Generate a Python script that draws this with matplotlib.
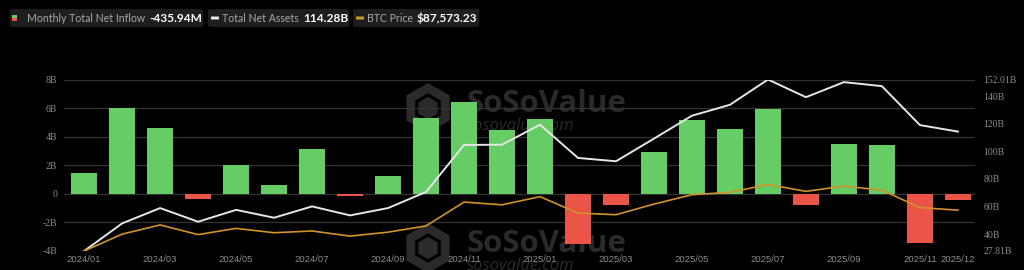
import numpy as np
import matplotlib
matplotlib.use("Agg")
import matplotlib.pyplot as plt
from matplotlib.patches import FancyBboxPatch, Rectangle, RegularPolygon

# Monthly spot BTC ETF flows, 2024/01 .. 2025/12
months = ["2024/01", "2024/02", "2024/03", "2024/04", "2024/05", "2024/06",
          "2024/07", "2024/08", "2024/09", "2024/10", "2024/11", "2024/12",
          "2025/01", "2025/02", "2025/03", "2025/04", "2025/05", "2025/06",
          "2025/07", "2025/08", "2025/09", "2025/10", "2025/11", "2025/12"]

# net inflow, billions USD
net_inflow = [1.45, 6.0, 4.59, -0.33, 2.05, 0.65, 3.12, -0.12, 1.24, 5.29, 6.45, 4.5,
              5.22, -3.52, -0.75, 2.94, 5.2, 4.57, 5.97, -0.75, 3.5, 3.4, -3.45, -0.436]

# total net assets, billions USD
net_assets = [27.81, 47.8, 58.9, 49.0, 57.6, 51.9, 60.1, 53.6, 58.9, 70.6, 104.6, 104.8,
              119.3, 95.2, 92.8, 109.2, 125.8, 133.7, 152.01, 139.2, 150.1, 147.2, 119.0, 114.28]

# BTC price, USD
btc_price = [42580, 61130, 71280, 60640, 67490, 62680, 64620, 58970, 63330, 70210, 96450, 93430,
             102400, 84350, 82550, 94200, 104600, 107140, 115760, 108250, 114050, 109600, 90400, 87573.23]

left_ticks = [-4, -2, 0, 2, 4, 6, 8]
left_labels = ["-4B", "-2B", "0", "2B", "4B", "6B", "8B"]
right_ticks = [27.81, 40, 60, 80, 100, 120, 140, 152.01]
right_labels = ["27.81B", "40B", "60B", "80B", "100B", "120B", "140B", "152.01B"]
xtick_idx = [0, 2, 4, 6, 8, 10, 12, 14, 16, 18, 20, 22, 23]

GREEN = "#66cd66"
RED = "#ea5548"
WHITE = "#e6e6e6"
ORANGE = "#d0922a"
GRID = "#333333"
TICK = "#8c8c8c"
WM = "#2a2a2a"

W = 1024.0
H = 270.0

fig = plt.figure(figsize=(10.24, 2.7), dpi=100, facecolor="black")
ax = fig.add_axes([64 / W, 19 / H, 911 / W, 171.5 / H])
ax.set_facecolor("black")

x = np.arange(len(months))

# watermarks (behind the bars); hexagon placed in inches so it stays regular
for base in (112, 252):
    cx, cy = 4.28, (H - base + 4) / 100
    ax.add_artist(RegularPolygon((cx, cy), 6, radius=0.25, facecolor=WM,
                                 edgecolor="none", zorder=1, clip_on=False,
                                 transform=fig.dpi_scale_trans))
    ax.add_artist(RegularPolygon((cx, cy), 6, radius=0.13, facecolor="none",
                                 edgecolor="black", linewidth=2.2, zorder=1,
                                 clip_on=False, transform=fig.dpi_scale_trans))
    ax.text(467 / W, (H - base) / H, "SoSoValue", color=WM, fontsize=22.5,
            fontweight="bold", family="Open Sans", va="baseline",
            transform=fig.transFigure, zorder=1, clip_on=False)
    ax.text(467 / W, (H - base - 18) / H, "sosovalue.com", color=WM, fontsize=12,
            style="italic", family="Open Sans", va="baseline",
            transform=fig.transFigure, zorder=1, clip_on=False)

colors = [GREEN if v >= 0 else RED for v in net_inflow]
ax.bar(x, net_inflow, width=0.68, color=colors, zorder=3)

ax.set_xlim(-0.53, 23.45)
ax.set_ylim(-4, 8)
ax.set_yticks(left_ticks)
ax.set_yticklabels(left_labels, family="Liberation Serif", fontsize=7, color=TICK)
ax.set_xticks(xtick_idx)
ax.set_xticklabels([months[i] for i in xtick_idx], family="Liberation Sans",
                   fontsize=6.8, color=TICK)
ax.tick_params(length=0, pad=5)
ax.tick_params(axis="x", pad=3)
ax.grid(axis="y", color=GRID, linewidth=0.9, zorder=0)
for s in ax.spines.values():
    s.set_visible(False)

ax2 = ax.twinx()
ax2.plot(x, net_assets, color=WHITE, linewidth=1.4, zorder=5)
ax2.set_ylim(27.81, 152.01)
ax2.set_yticks(right_ticks)
ax2.set_yticklabels(right_labels, family="Liberation Serif", fontsize=7, color=TICK)
ax2.tick_params(length=0, pad=6)
for s in ax2.spines.values():
    s.set_visible(False)

ax3 = ax.twinx()
ax3.plot(x, btc_price, color=ORANGE, linewidth=1.2, zorder=4)
ax3.set_ylim(42580, 231400)
ax3.axis("off")

# legend chips
chips = [
    (10, 193, "Monthly Total Net Inflow", "-435.94M", "bar"),
    (208, 141, "Total Net Assets", "114.28B", WHITE),
    (353, 126, "BTC Price", "$87,573.23", "#c9a030"),
]
for x0, w, lab, val, kind in chips:
    fig.patches.append(FancyBboxPatch((x0 / W, (H - 27) / H), w / W, 18 / H,
                                      boxstyle="round,pad=0,rounding_size=0.004",
                                      transform=fig.transFigure, facecolor="#1e1e1e",
                                      edgecolor="none"))
    if kind == "bar":
        fig.patches.append(Rectangle((12 / W, (H - 18) / H), 5 / W, 3 / H,
                                     transform=fig.transFigure, facecolor=GREEN))
        fig.patches.append(Rectangle((12 / W, (H - 21) / H), 5 / W, 3 / H,
                                     transform=fig.transFigure, facecolor=RED))
        tx = 27
    else:
        fig.patches.append(FancyBboxPatch(((x0 + 3) / W, (H - 19.5) / H), 8 / W, 3 / H,
                                          boxstyle="round,pad=0,rounding_size=0.001",
                                          transform=fig.transFigure, facecolor=kind,
                                          edgecolor="none"))
        tx = x0 + 14
    t = fig.text(tx / W, (H - 18) / H, lab, color="#a8a8a8", fontsize=7.6,
                 family="Lato", va="center")
    fig.canvas.draw()
    bb = t.get_window_extent()
    fig.text((bb.x1 + 4) / W, (H - 18) / H, val, color="white", fontsize=8.6,
             family="Lato", fontweight="bold", va="center")

fig.savefig("out.png", dpi=100, facecolor="black")
